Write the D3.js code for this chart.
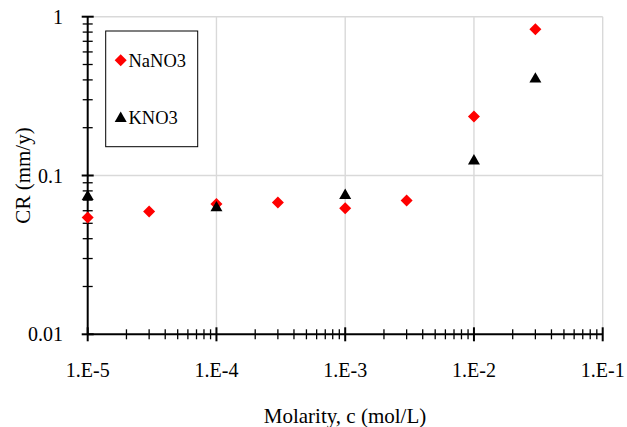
<!DOCTYPE html>
<html><head><meta charset="utf-8">
<script src="https://cdn.jsdelivr.net/npm/d3@7"></script>
<style>body{margin:0;background:#fff}svg{display:block}</style>
</head><body>
<svg id="c" width="627" height="427" font-family="'Liberation Serif', 'Times New Roman', Times, 'DejaVu Serif', serif"></svg>
<script>
const molarity = [1e-5, 3e-5, 1e-4, 3e-4, 1e-3, 3e-3, 1e-2, 3e-2];
const nano3 = [0.0544, 0.0593, 0.0661, 0.0676, 0.0623, 0.0697, 0.235, 0.835];
const kno3X = [1e-5, 1e-4, 1e-3, 1e-2, 3e-2];
const kno3 = [0.0737, 0.0626, 0.0748, 0.1236, 0.405];
const xTicks = [1e-5, 1e-4, 1e-3, 1e-2, 1e-1];
const xTickLabels = ["1.E-5", "1.E-4", "1.E-3", "1.E-2", "1.E-1"];
const yTicks = [0.01, 0.1, 1];
const yTickLabels = ["0.01", "0.1", "1"];

const svg = d3.select("#c");
const x = d3.scaleLog().domain([1e-5, 1e-1]).range([87.7, 602.7]);
const y = d3.scaleLog().domain([0.01, 1]).range([334.3, 16.7]);

// minor ticks
const minorX = [], minorY = [];
for (let e = -5; e < -1; e++) for (let k = 2; k <= 9; k++) minorX.push(k * Math.pow(10, e));
for (let e = -2; e < 0; e++) for (let k = 2; k <= 9; k++) minorY.push(k * Math.pow(10, e));

// gridlines
const grid = svg.append("g").attr("stroke", "#d9d9d9").attr("stroke-width", 1.4);
xTicks.slice(1).forEach(t => grid.append("line").attr("x1", x(t)).attr("x2", x(t)).attr("y1", y(1)).attr("y2", y(0.01)));
yTicks.slice(1).forEach(t => grid.append("line").attr("y1", y(t)).attr("y2", y(t)).attr("x1", x(1e-5)).attr("x2", x(1e-1)));

// axes lines
const ax = svg.append("g").attr("stroke", "#000");
ax.append("line").attr("x1", x(1e-5)).attr("x2", x(1e-1)).attr("y1", y(0.01)).attr("y2", y(0.01)).attr("stroke-width", 2);
ax.append("line").attr("x1", x(1e-5)).attr("x2", x(1e-5)).attr("y1", y(1)).attr("y2", y(0.01)).attr("stroke-width", 2);
minorX.forEach(t => ax.append("line").attr("x1", x(t)).attr("x2", x(t)).attr("y1", y(0.01) - 5).attr("y2", y(0.01) + 5).attr("stroke-width", 1.3));
xTicks.forEach(t => ax.append("line").attr("x1", x(t)).attr("x2", x(t)).attr("y1", y(0.01) - 7).attr("y2", y(0.01) + 7).attr("stroke-width", 2));
minorY.forEach(t => ax.append("line").attr("y1", y(t)).attr("y2", y(t)).attr("x1", x(1e-5) - 5).attr("x2", x(1e-5) + 5).attr("stroke-width", 1.3));
yTicks.forEach(t => ax.append("line").attr("y1", y(t)).attr("y2", y(t)).attr("x1", x(1e-5) - 6).attr("x2", x(1e-5) + 6).attr("stroke-width", 2));

// tick labels
xTicks.forEach((t, i) => svg.append("text").attr("x", x(t)).attr("y", 377).attr("text-anchor", "middle").attr("font-size", 20).text(xTickLabels[i]));
yTicks.forEach((t, i) => svg.append("text").attr("x", 63).attr("y", y(t) + 7).attr("text-anchor", "end").attr("font-size", 20).text(yTickLabels[i]));

// titles
svg.append("text").attr("x", 345).attr("y", 423).attr("text-anchor", "middle").attr("font-size", 21).text("Molarity, c (mol/L)");
svg.append("text").attr("transform", "translate(30,175.5) rotate(-90)").attr("text-anchor", "middle").attr("font-size", 21).text("CR (mm/y)");

// markers
const diamond = "M0,-6L6,0L0,6L-6,0Z";
const tri = "M0,-6.9L6,3.5L-6,3.5Z";
svg.append("g").selectAll("path.n").data(molarity).join("path")
  .attr("d", diamond).attr("fill", "#ff0000")
  .attr("transform", (d, i) => `translate(${x(d)},${y(nano3[i])})`);
svg.append("g").selectAll("path.k").data(kno3X).join("path")
  .attr("d", tri).attr("fill", "#000")
  .attr("transform", (d, i) => `translate(${x(d)},${y(kno3[i])})`);

// legend
const lg = svg.append("g");
lg.append("rect").attr("x", 105.7).attr("y", 31).attr("width", 92).attr("height", 115.7).attr("fill", "#fff").attr("stroke", "#000").attr("stroke-width", 1);
lg.append("path").attr("d", diamond).attr("fill", "#ff0000").attr("transform", "translate(120.7,60.3)");
lg.append("text").attr("x", 128.5).attr("y", 66.5).attr("font-size", 18.5).text("NaNO3");
lg.append("path").attr("d", tri).attr("fill", "#000").attr("transform", "translate(120.7,118.5)");
lg.append("text").attr("x", 128.5).attr("y", 124).attr("font-size", 18.5).text("KNO3");
</script>
</body></html>
